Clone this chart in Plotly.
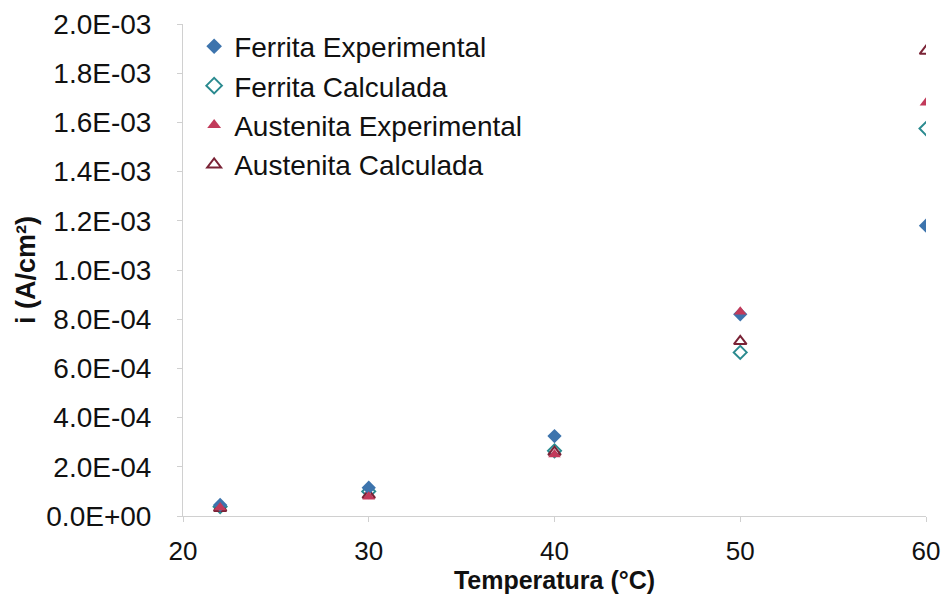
import plotly.graph_objects as go

temps = [22, 30, 40, 50, 60]
ferrita_exp = [4.5e-5, 1.15e-4, 3.25e-4, 8.2e-4, 1.18e-3]
ferrita_calc = [3.8e-5, 1.0e-4, 2.65e-4, 6.65e-4, 1.575e-3]
austenita_exp = [3.5e-5, 7.8e-5, 2.5e-4, 8.3e-4, 1.68e-3]
austenita_calc = [3.2e-5, 8.5e-5, 2.6e-4, 7.1e-4, 1.89e-3]
yticks = [0, 2e-4, 4e-4, 6e-4, 8e-4, 1e-3, 1.2e-3, 1.4e-3, 1.6e-3, 1.8e-3, 2e-3]
ytext = ["0.0E+00", "2.0E-04", "4.0E-04", "6.0E-04", "8.0E-04", "1.0E-03",
         "1.2E-03", "1.4E-03", "1.6E-03", "1.8E-03", "2.0E-03"]

C_FE = "#3d74ad"
C_FC = "#2a8a8f"
C_AE = "#c23a5a"
C_AC = "#7a2336"

fig = go.Figure()
fig.add_trace(go.Scatter(x=temps, y=ferrita_calc, mode="markers", name="Ferrita Calculada",
                         marker=dict(symbol="diamond-open", size=10, color=C_FC, line=dict(width=2)),
                         showlegend=False))
fig.add_trace(go.Scatter(x=temps, y=austenita_calc, mode="markers", name="Austenita Calculada",
                         marker=dict(symbol="triangle-up-open", size=11, color=C_AC, line=dict(width=2)),
                         showlegend=False))
fig.add_trace(go.Scatter(x=temps, y=ferrita_exp, mode="markers", name="Ferrita Experimental",
                         marker=dict(symbol="diamond", size=11, color=C_FE), showlegend=False))
fig.add_trace(go.Scatter(x=temps, y=austenita_exp, mode="markers", name="Austenita Experimental",
                         marker=dict(symbol="triangle-up", size=11, color=C_AE), showlegend=False))

# legend entries in reference order
fig.add_trace(go.Scatter(x=[None], y=[None], mode="markers", name="Ferrita Experimental",
                         marker=dict(symbol="diamond", size=9, color=C_FE)))
fig.add_trace(go.Scatter(x=[None], y=[None], mode="markers", name="Ferrita Calculada",
                         marker=dict(symbol="diamond-open", size=8, color=C_FC, line=dict(width=2))))
fig.add_trace(go.Scatter(x=[None], y=[None], mode="markers", name="Austenita Experimental",
                         marker=dict(symbol="triangle-up", size=9, color=C_AE)))
fig.add_trace(go.Scatter(x=[None], y=[None], mode="markers", name="Austenita Calculada",
                         marker=dict(symbol="triangle-up-open", size=8, color=C_AC, line=dict(width=2))))

fig.update_layout(
    width=941, height=586,
    margin=dict(l=175, r=23, t=16, b=78, autoexpand=False),
    paper_bgcolor="white", plot_bgcolor="white",
    font=dict(family="Liberation Sans, Arial", size=20, color="#111"),
    legend=dict(x=0.015, y=1.005, xanchor="left", yanchor="top", bgcolor="rgba(0,0,0,0)",
                font=dict(size=28), itemsizing="constant", itemwidth=30, tracegroupgap=0),
    xaxis=dict(range=[20, 60], tickvals=[20, 30, 40, 50, 60], showgrid=False, zeroline=False,
               showline=True, linecolor="#d0d0d0", linewidth=1, ticks="outside", ticklen=5,
               tickcolor="#d0d0d0", tickfont=dict(size=26), ticklabelstandoff=7,
               automargin=False,
               title=dict(text="<b>Temperatura (°C)</b>", font=dict(size=25), standoff=4)),
    yaxis=dict(range=[0, 2e-3], tickvals=yticks, ticktext=ytext, showgrid=False, zeroline=False,
               showline=True, linecolor="#d0d0d0", linewidth=1, ticks="outside", ticklen=5,
               tickcolor="#d0d0d0", tickfont=dict(size=28), ticklabelstandoff=20,
               automargin=False,
               title=dict(text="<b>i (A/cm²)</b>", font=dict(size=27), standoff=2)),
)
fig.write_html("out.html")
